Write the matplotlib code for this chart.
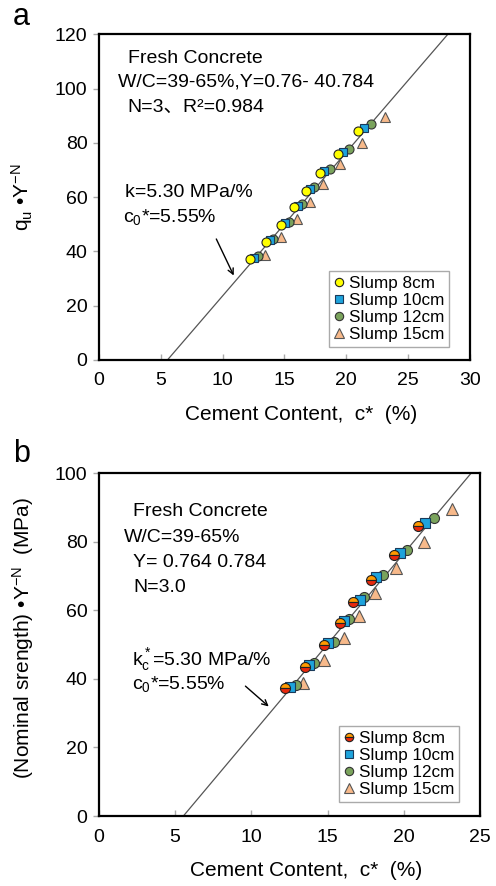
import numpy as np
import matplotlib
matplotlib.use("Agg")
import matplotlib.pyplot as plt
from matplotlib.lines import Line2D

plt.rcParams['font.family'] = ['Liberation Sans', 'Noto Sans CJK JP', 'DejaVu Sans']
plt.rcParams['mathtext.fontset'] = 'custom'
plt.rcParams['mathtext.rm'] = 'Liberation Sans'
plt.rcParams['mathtext.it'] = 'Liberation Sans'

# data (cement content %, strength term)
s8_x = [12.2, 13.5, 14.75, 15.8, 16.7, 17.85, 19.35, 20.95]
s8_y = [37.2, 43.5, 49.9, 56.4, 62.3, 68.8, 76.0, 84.5]
s10_x = [12.55, 13.8, 15.05, 16.1, 17.1, 18.2, 19.75, 21.4]
s10_y = [37.7, 44.1, 50.3, 56.8, 63.0, 69.6, 76.8, 85.5]
s12_x = [12.9, 14.1, 15.4, 16.4, 17.4, 18.65, 20.2, 22.0]
s12_y = [38.3, 44.6, 50.8, 57.3, 63.8, 70.4, 77.7, 86.8]
s15_x = [13.4, 14.75, 16.05, 17.05, 18.1, 19.5, 21.3, 23.15]
s15_y = [38.8, 45.4, 51.8, 58.3, 65.0, 72.2, 80.0, 89.5]

k_slope = 5.30
c0 = 5.55
labels = ['Slump 8cm', 'Slump 10cm', 'Slump 12cm', 'Slump 15cm']

fig = plt.figure(figsize=(4.96, 8.86), dpi=100)
ax1 = fig.add_axes([0.199, 0.5937, 0.749, 0.3676])
ax2 = fig.add_axes([0.199, 0.0790, 0.769, 0.3871])

FS = 14
LFS = 15


def style(ax, xmax, ymax, label_y):
    ax.set_xlim(0, xmax)
    ax.set_ylim(0, ymax)
    for s in ax.spines.values():
        s.set_linewidth(1.6)
        s.set_color('black')
    ax.tick_params(axis='x', direction='in', length=4, width=1, color='#aaaaaa',
                   labelsize=FS, pad=9)
    ax.tick_params(axis='y', direction='out', length=4, width=1, color='#aaaaaa',
                   labelsize=FS, pad=4)
    # fitted line c* = c0 + q/k
    xl = np.array([c0, c0 + ymax / k_slope])
    ax.plot(xl, k_slope * (xl - c0), color='#555555', lw=0.9, zorder=2)
    ax.set_xlabel('Cement Content,  c*  (%)', fontsize=LFS)
    ax.xaxis.set_label_coords(0.545, label_y)


def points(ax, first, ms):
    ax.plot(s15_x, s15_y, '^', ms=ms + 1, mfc='#f7b98a', mec='#555555', mew=0.8,
            ls='none', zorder=3, label=labels[3])
    ax.plot(s12_x, s12_y, 'o', ms=ms, mfc='#7aa35c', mec='#333333', mew=0.8,
            ls='none', zorder=4, label=labels[2])
    ax.plot(s10_x, s10_y, 's', ms=ms - 0.5, mfc='#1ea3dc', mec='#1a3a5a', mew=0.8,
            ls='none', zorder=5, label=labels[1])
    if first:
        ax.plot(s8_x, s8_y, 'o', ms=ms, mfc='#ffff00', mec='#222222', mew=0.8,
                ls='none', zorder=6, label=labels[0])
    else:
        ax.plot(s8_x, s8_y, 'o', ms=ms, mfc='#ff9a00', mfcalt='#e8280c',
                fillstyle='top', mec='#222222', mew=0.8, ls='none', zorder=6,
                label=labels[0])


def legend(ax, first, anchor):
    if first:
        h0 = Line2D([], [], marker='o', ms=6, mfc='#ffff00', mec='#222222', mew=0.8, ls='none')
    else:
        h0 = Line2D([], [], marker='o', ms=6, mfc='#ff9a00', mfcalt='#e8280c',
                    fillstyle='top', mec='#222222', mew=0.8, ls='none')
    h1 = Line2D([], [], marker='s', ms=5.5, mfc='#1ea3dc', mec='#1a3a5a', mew=0.8, ls='none')
    h2 = Line2D([], [], marker='o', ms=6, mfc='#7aa35c', mec='#333333', mew=0.8, ls='none')
    h3 = Line2D([], [], marker='^', ms=6.5, mfc='#f7b98a', mec='#555555', mew=0.8, ls='none')
    leg = ax.legend([h0, h1, h2, h3], labels, loc='lower right', bbox_to_anchor=anchor,
                    fontsize=12.3, frameon=True, fancybox=False, framealpha=1,
                    edgecolor='#aaaaaa', handlelength=0.6, handletextpad=0.25,
                    labelspacing=0.12, borderpad=0.3, borderaxespad=0)
    leg.get_frame().set_linewidth(1.0)


# panel a
style(ax1, 30, 120, -0.138)
ax1.set_xticks([0, 5, 10, 15, 20, 25, 30])
ax1.set_yticks([0, 20, 40, 60, 80, 100, 120])
points(ax1, True, 6.5)
legend(ax1, True, (0.943, 0.04))
ax1.set_ylabel(r'q$_{\mathregular{u}}$ •Y$^{\mathregular{-N}}$', fontsize=LFS)
ax1.yaxis.set_label_coords(-0.172, 0.5)
t = dict(transform=ax1.transAxes, fontsize=FS, ha='left', va='center')
ax1.text(0.078, 0.926, 'Fresh Concrete', **t)
ax1.text(0.052, 0.854, 'W/C=39-65%,Y=0.76- 40.784', **t)
ax1.text(0.078, 0.776, 'N=3、R²=0.984', **t)
ax1.text(0.071, 0.513, 'k=5.30 MPa/%', **t)
ax1.text(0.065, 0.438, r'$\mathregular{c_0}$*=5.55%', **t)
ax1.annotate('', xy=(11.0, 30.2), xytext=(9.4, 45.5),
             arrowprops=dict(arrowstyle='->', color='black', lw=1.0))
fig.text(13 / 496, 1 - 17 / 886, 'a', fontsize=22, ha='left', va='center')

# panel b
style(ax2, 25, 100, -0.131)
ax2.set_xticks([0, 5, 10, 15, 20, 25])
ax2.set_yticks([0, 20, 40, 60, 80, 100])
points(ax2, False, 7.2)
legend(ax2, False, (0.945, 0.041))
ax2.set_ylabel(r'(Nominal srength) •Y$^{\mathregular{-N}}$  (MPa)', fontsize=LFS)
ax2.yaxis.set_label_coords(-0.164, 0.52)
t = dict(transform=ax2.transAxes, fontsize=FS, ha='left', va='center')
ax2.text(0.091, 0.888, 'Fresh Concrete', **t)
ax2.text(0.067, 0.812, 'W/C=39-65%', **t)
ax2.text(0.091, 0.739, 'Y= 0.764 0.784', **t)
ax2.text(0.090, 0.665, 'N=3.0', **t)
ax2.text(0.088, 0.457, r'$\mathregular{k_c^*}$=5.30 MPa/%', **t)
ax2.text(0.088, 0.384, r'$\mathregular{c_0}$*=5.55%', **t)
ax2.annotate('', xy=(11.28, 31.4), xytext=(9.48, 38.4),
             arrowprops=dict(arrowstyle='->', color='black', lw=1.0))
fig.text(13 / 496, 1 - 454 / 886, 'b', fontsize=22, ha='left', va='center')

fig.savefig('out.png', dpi=100)
